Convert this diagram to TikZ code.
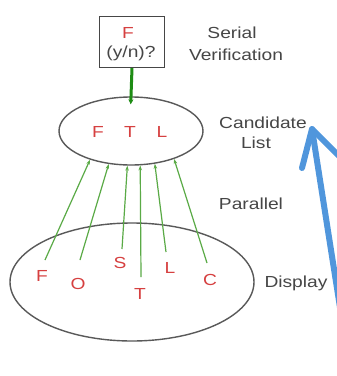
\documentclass[tikz,border=0pt]{standalone}
\usepackage{fontspec}
\setmainfont{Liberation Sans}[FakeStretch=1.2]
\usetikzlibrary{shapes.geometric,arrows.meta}
\definecolor{lred}{RGB}{214,64,64}
\definecolor{lgray}{RGB}{70,70,70}
\definecolor{lgreen}{RGB}{90,170,70}
\definecolor{dgreen}{RGB}{30,140,20}
\definecolor{lblue}{RGB}{80,150,220}
\tikzset{
  lbl/.style={anchor=base,inner sep=0pt,text=lgray,font=\fontsize{16}{18}\selectfont},
  let/.style={anchor=base,inner sep=0pt,text=lred,font=\fontsize{16}{18}\selectfont},
  oval/.style={ellipse,draw=lgray!90,line width=1.4pt,inner sep=0pt},
  par/.style={draw=lgreen,line width=1.2pt,-{Stealth[length=5pt,width=3.5pt]}},
  ser/.style={draw=dgreen,line width=3pt,-{Stealth[length=5pt,width=5pt]}},
  big/.style={draw=lblue,line width=6pt,line cap=round,line join=round}
}
\begin{document}
\begin{tikzpicture}[x=1pt,y=-1pt]
\clip (0,0) rectangle (337,376);
\fill[white] (0,0) rectangle (337,376);
% serial box
\node[draw=lgray,line width=1.4pt,minimum width=65pt,minimum height=51pt,inner sep=0pt] (box) at (132,42) {};
\node[let] (bxF) at (128,38) {F};
\node[lbl] (bxq) at (131,57) {(y/n)?};
\node[lbl] (ser1) at (232,38) {Serial};
\node[lbl] (ser2) at (236,60) {Verification};
% candidate list
\node[oval,minimum width=144pt,minimum height=68pt] (cand) at (131,131) {};
\node[let] (cF) at (98,137) {F};
\node[let] (cT) at (130,137) {T};
\node[let] (cL) at (162,137) {L};
\node[lbl] (cl1) at (263,128) {Candidate};
\node[lbl] (cl2) at (256,148) {List};
\draw[ser,shorten >=-8pt] (box.south) -- (cand.north);
% display
\node[oval,minimum width=244pt,minimum height=118pt] (disp) at (132,282) {};
\node[let] (dF) at (42,281) {F};
\node[let] (dO) at (78,289) {O};
\node[let] (dS) at (120,268) {S};
\node[let] (dT) at (140,299) {T};
\node[let] (dL) at (170,273) {L};
\node[let] (dC) at (210,285) {C};
\node[lbl] (pl) at (251,209) {Parallel};
\node[lbl] (dl) at (296,287) {Display};
% parallel connectors
\coordinate (s1) at (45,260);
\coordinate (s2) at (80,260);
\coordinate (s3) at (122,249);
\coordinate (s4) at (141,277);
\coordinate (s5) at (166,252);
\coordinate (s6) at (207,263);
\draw[par] (s1) -- (cand.215);
\draw[par] (s2) -- (cand.236);
\draw[par] (s3) -- (cand.264);
\draw[par] (s4) -- (cand.285);
\draw[par] (s5) -- (cand.306);
\draw[par] (s6) -- (cand.327);
% blue arrow
\coordinate (btip) at (312,129);
\coordinate (bbot) at (342,320);
\coordinate (bwl) at (302,168);
\coordinate (bwr) at (345,162);
\draw[big] (bbot) -- (btip);
\draw[big] (bwl) -- (btip) -- (bwr);
\end{tikzpicture}
\end{document}
